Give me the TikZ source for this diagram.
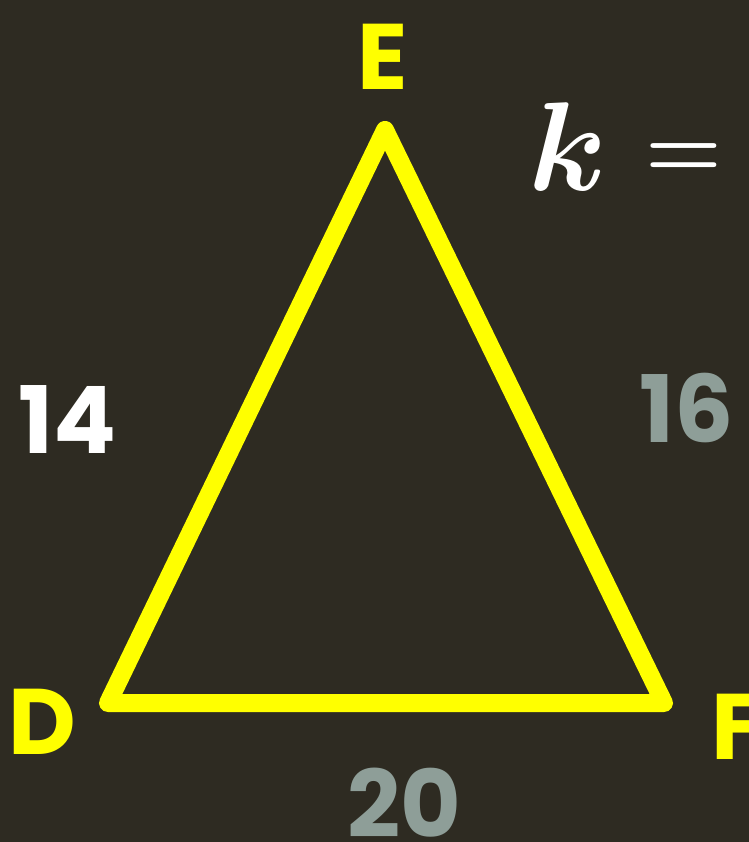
\RequirePackage{fix-cm}
\documentclass[tikz,border=0pt]{standalone}
\usepackage{fontspec}
\setmainfont{Poppins}
\usetikzlibrary{positioning}
\definecolor{BoardDark}{RGB}{46,43,34}
\definecolor{Lemon}{RGB}{255,255,0}
\definecolor{Sage}{RGB}{142,158,152}
\tikzset{
  vertex/.style={text=Lemon,font=\fontsize{53}{60}\selectfont\bfseries,inner sep=0pt},
  sidelen/.style={font=\fontsize{53}{60}\selectfont\bfseries,inner sep=0pt},
  given/.style={sidelen,text=white},
  unknown/.style={sidelen,text=Sage},
  ratiotext/.style={text=white,inner sep=0pt,font=\fontsize{72}{80}\selectfont\boldmath},
  sideline/.style={draw=Lemon,line width=0.36cm,line join=round,line cap=round}
}
\begin{document}
\begin{tikzpicture}[x=0.02cm,y=-0.02cm]
  \clip (0,0) rectangle (749,842);
  \fill[BoardDark] (0,0) rectangle (749,842);
  \coordinate (d) at (108,703);
  \coordinate (e) at (385,130);
  \coordinate (f) at (664,703);
  \draw[sideline] (d)--(e)--(f)--cycle;
  \node[vertex] (labE) at (383,57) {E};
  \node[vertex] (labD) at (42,722) {D};
  \node[vertex,anchor=west] (labF) at (711,727) {F};
  \node[given] (sideDE) at (68,420) {14};
  \node[unknown] (sideEF) at (687,408) {16};
  \node[unknown] (sideDF) at (404,803) {20};
  % ratio k =
  \node[ratiotext,anchor=base west] (ratio) at (528,190) {$k$};
  \node[ratiotext,font=\fontsize{50}{56}\selectfont\boldmath,anchor=base] (equals) at (684,177) {$=$};
\end{tikzpicture}
\end{document}
